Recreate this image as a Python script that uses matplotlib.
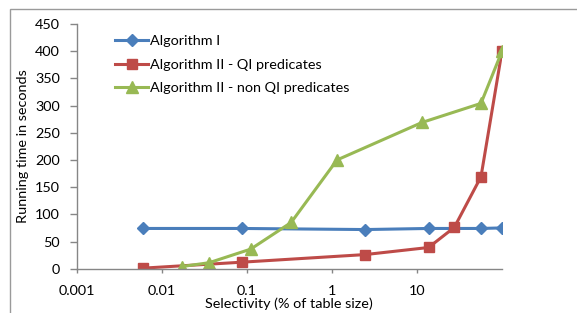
import matplotlib
matplotlib.use("Agg")
import matplotlib.pyplot as plt
from matplotlib.patches import Rectangle

# Data
x_alg1 = [0.006, 0.088, 2.47, 13.7, 56.6, 100]
y_alg1 = [74, 74, 72, 74, 74, 75]

x_alg2_qi = [0.006, 0.088, 2.47, 13.7, 27.5, 56.6, 100]
y_alg2_qi = [1, 12, 26, 39, 76, 169, 400]

x_alg2_nonqi = [0.0172, 0.036, 0.111, 0.332, 1.15, 11.5, 56.6, 100]
y_alg2_nonqi = [4, 11, 36, 85, 200, 269, 304, 400]

labels = ["Algorithm I", "Algorithm II - QI predicates", "Algorithm II - non QI predicates"]
xticks = [0.001, 0.01, 0.1, 1, 10]
xtick_labels = ["0.001", "0.01", "0.1", "1", "10"]
yticks = [0, 50, 100, 150, 200, 250, 300, 350, 400, 450]

plt.rcParams['font.family'] = ['Lato', 'DejaVu Sans']
FS = 10.4

W, H = 577, 313
fig = plt.figure(figsize=(W / 100, H / 100), dpi=100)
fig.patch.set_facecolor('white')

# outer chart border
fig.patches.append(Rectangle((9.5 / W, -0.2), 1.5, 1 - 8.5 / H + 0.2,
                             transform=fig.transFigure, fill=False,
                             edgecolor='#9a9a9a', linewidth=1.0))

left, right, bottom, top = 76.7 / W, 502 / W, 1 - 268.7 / H, 1 - 24 / H
ax = fig.add_axes([left, bottom, right - left, top - bottom])

blue = '#4A7EBB'
red = '#BE4B48'
green = '#98B954'

ax.plot(x_alg1, y_alg1, color=blue, lw=2.2, marker='D', ms=6.5, label=labels[0])
ax.plot(x_alg2_qi, y_alg2_qi, color=red, lw=2.2, marker='s', ms=7.5, label=labels[1])
ax.plot(x_alg2_nonqi, y_alg2_nonqi, color=green, lw=2.2, marker='^', ms=8, label=labels[2])

ax.set_xscale('log')
ax.set_xlim(0.001, 100)
ax.set_ylim(0, 450)
ax.set_xticks(xticks)
ax.set_xticklabels(xtick_labels)
ax.minorticks_off()
ax.set_yticks(yticks)

for s in ['top', 'right']:
    ax.spines[s].set_visible(False)
for s in ['left', 'bottom']:
    ax.spines[s].set_color('#868686')
    ax.spines[s].set_linewidth(1.0)

ax.tick_params(axis='x', direction='out', length=3, width=1, color='#868686',
               pad=9, labelsize=FS, labelcolor='black')
ax.tick_params(axis='y', direction='out', length=5, width=1, color='#868686',
               pad=7, labelsize=FS, labelcolor='black')

ax.set_xlabel("Selectivity (% of table size)", fontsize=FS, labelpad=0)
ax.set_ylabel("Running time in seconds", fontsize=FS, labelpad=4)

leg = ax.legend(loc='upper left', bbox_to_anchor=(115 / W, 1 - 35 / H),
                bbox_transform=fig.transFigure, frameon=False, fontsize=FS,
                handlelength=2.3, handletextpad=0.15, labelspacing=0.8,
                borderpad=0, borderaxespad=0, numpoints=1)

fig.savefig("out.png", dpi=100, facecolor='white')
